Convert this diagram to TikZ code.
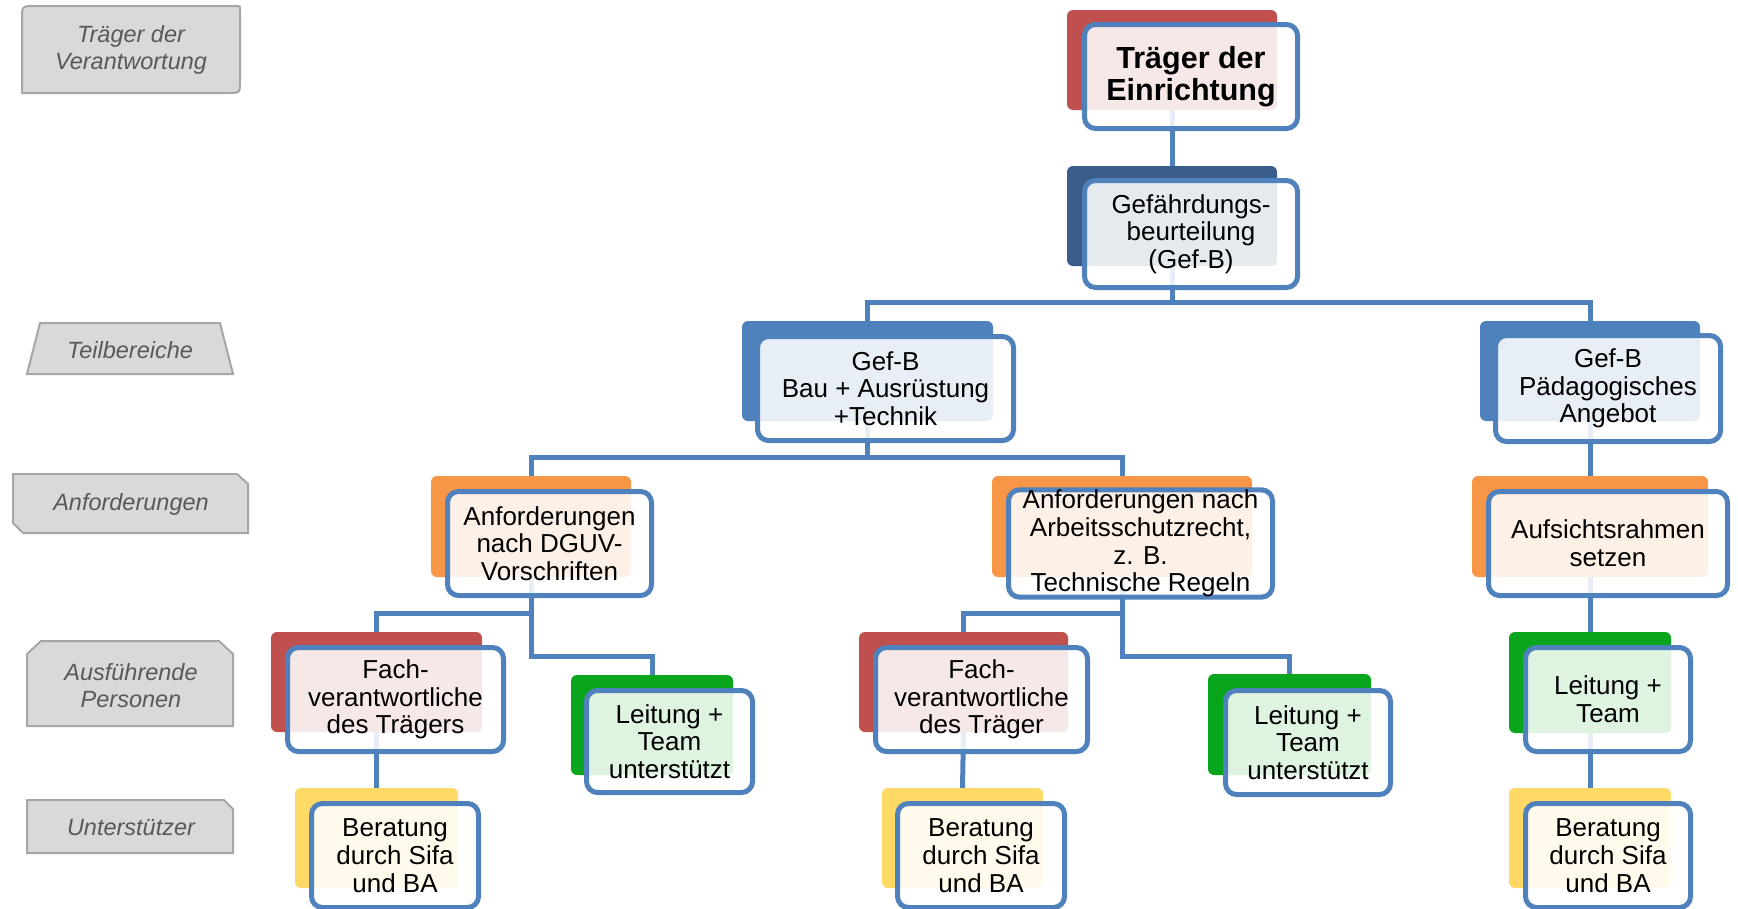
\documentclass[tikz,border=0pt]{standalone}
\usepackage{fontspec}
\setmainfont{Liberation Sans}
\usetikzlibrary{backgrounds}
\definecolor{bblue}{HTML}{4F81BD}
\definecolor{cred}{HTML}{C0504D}
\definecolor{cdblue}{HTML}{385D8A}
\definecolor{cmblue}{HTML}{4F81BD}
\definecolor{corange}{HTML}{F79646}
\definecolor{cgreen}{HTML}{09A61D}
\definecolor{cyellow}{HTML}{FFD966}
\definecolor{lgray}{HTML}{D9D9D9}
\definecolor{lborder}{HTML}{A6A6A6}
\definecolor{ltext}{HTML}{595959}
\tikzset{
  backbox/.style={rounded corners=6pt, inner sep=0pt, outer sep=0pt, draw=none},
  frontbox/.style={draw=bblue, line width=5pt, fill=white, fill opacity=0.87, text opacity=1,
    rounded corners=11pt, inner sep=0pt, align=center, text=black,
    font=\fontsize{26}{27.7}\selectfont},
  conn/.style={draw=bblue, line width=5pt},
  legendbox/.style={fill=lgray, draw=lborder, line width=2pt},
  legtext/.style={text=ltext, align=center, font=\fontsize{23.5}{27}\selectfont\itshape}
}
\begin{document}
\begin{tikzpicture}[x=1pt,y=-1pt]
\useasboundingbox (0,0) rectangle (1738,908);

% legend
\filldraw[legendbox] (22,93) -- (22,19) .. controls (22,6) .. (35,6) -- (237,6) .. controls (240,6) .. (240,9) -- (240,81) .. controls (240,93) .. (228,93) -- cycle;
\node[legtext] (l1) at (131,50) {Träger der\\Verantwortung};
\filldraw[legendbox] (40,323) -- (220,323) -- (233,374) -- (27,374) -- cycle;
\node[legtext] (l2) at (130,350) {Teilbereiche};
\filldraw[legendbox] (13,474) -- (237,474) -- (248,484) -- (248,533) -- (23,533) -- (13,523) -- cycle;
\node[legtext] (l3) at (131,504) {Anforderungen};
\filldraw[legendbox] (27,726) -- (27,654) -- (41,641) -- (219,641) -- (233,654) -- (233,726) -- cycle;
\node[legtext] (l4) at (131,686) {Ausführende\\Personen};
\filldraw[legendbox] (27,800) -- (224,800) -- (233,809) -- (233,853) -- (27,853) -- cycle;
\node[legtext] (l5) at (131,828) {Unterstützer};

% units
\node[backbox, fill=cred,    minimum width=210pt, minimum height=100pt] (b1)  at (1172,60) {};
\node[frontbox, minimum width=213pt, minimum height=104pt, font=\fontsize{30.5}{32.5}\selectfont\bfseries] (f1) at (1191,76.5) {Träger der\\Einrichtung};

\node[backbox, fill=cdblue,  minimum width=210pt, minimum height=100pt] (b2)  at (1172,216) {};
\node[frontbox, minimum width=213pt, minimum height=107pt] (f2) at (1191,234) {Gefährdungs-\\beurteilung\\(Gef-B)};

\node[backbox, fill=cmblue,  minimum width=251pt, minimum height=100pt] (b3)  at (867.5,371) {};
\node[frontbox, minimum width=256pt, minimum height=104pt] (f3) at (885.5,388.5) {Gef-B\\Bau + Ausrüstung\\+Technik};

\node[backbox, fill=cmblue,  minimum width=220pt, minimum height=100pt] (b4)  at (1590,371) {};
\node[frontbox, minimum width=225pt, minimum height=106pt] (f4) at (1608,388.5) {Gef-B\\Pädagogisches\\Angebot};

\node[backbox, fill=corange, minimum width=200pt, minimum height=101pt] (b5)  at (531,526.5) {};
\node[frontbox, minimum width=204pt, minimum height=104pt] (f5) at (549.5,543.5) {Anforderungen\\nach DGUV-\\Vorschriften};

\node[backbox, fill=corange, minimum width=260pt, minimum height=101pt] (b6)  at (1122,526.5) {};
\node[frontbox, minimum width=264pt, minimum height=104pt] (f6) at (1140.5,543.5) {Anforderungen nach\\Arbeitsschutzrecht,\\z. B.\\Technische Regeln};

\node[backbox, fill=corange, minimum width=236pt, minimum height=101pt] (b7)  at (1590,526.5) {};
\node[frontbox, minimum width=239pt, minimum height=104pt] (f7) at (1608,543.5) {Aufsichtsrahmen\\setzen};

\node[backbox, fill=cred,    minimum width=211pt, minimum height=100pt] (b8)  at (376.5,682) {};
\node[frontbox, minimum width=216pt, minimum height=104pt] (f8) at (395.5,699.5) {Fach-\\verantwortliche\\des Trägers};

\node[backbox, fill=cgreen,  minimum width=162pt, minimum height=100pt] (b9)  at (652,725) {};
\node[frontbox, minimum width=166pt, minimum height=102pt] (f9) at (669.5,741.5) {Leitung +\\Team\\unterstützt};

\node[backbox, fill=cred,    minimum width=209pt, minimum height=100pt] (b10) at (963.5,682) {};
\node[frontbox, minimum width=212pt, minimum height=104pt] (f10) at (981.5,699.5) {Fach-\\verantwortliche\\des Träger};

\node[backbox, fill=cgreen,  minimum width=163pt, minimum height=101pt] (b11) at (1289.5,724.5) {};
\node[frontbox, minimum width=165pt, minimum height=104pt] (f11) at (1308,742.5) {Leitung +\\Team\\unterstützt};

\node[backbox, fill=cgreen,  minimum width=162pt, minimum height=101pt] (b12) at (1590,682.5) {};
\node[frontbox, minimum width=165pt, minimum height=104pt] (f12) at (1608,699.5) {Leitung +\\Team};

\node[backbox, fill=cyellow, minimum width=163pt, minimum height=100pt] (b13) at (376.5,838) {};
\node[frontbox, minimum width=167pt, minimum height=104pt] (f13) at (395,855.5) {Beratung\\durch Sifa\\und BA};

\node[backbox, fill=cyellow, minimum width=161pt, minimum height=100pt] (b14) at (962.5,838) {};
\node[frontbox, minimum width=167pt, minimum height=104pt] (f14) at (981,855.5) {Beratung\\durch Sifa\\und BA};

\node[backbox, fill=cyellow, minimum width=162pt, minimum height=100pt] (b15) at (1590,838) {};
\node[frontbox, minimum width=165pt, minimum height=104pt] (f15) at (1608,855.5) {Beratung\\durch Sifa\\und BA};

% connectors
\begin{pgfonlayer}{background}
\fill[white] (0,0) rectangle (1738,908);
\draw[conn] (b1.south) -- (b2.north);
\draw[conn] (b2.south) -- (b2.south |- 0,302) -| (b3.north);
\draw[conn] (b2.south |- 0,302) -| (b4.north);
\draw[conn] (b3.south) -- (b3.south |- 0,457) -| (b5.north);
\draw[conn] (b3.south |- 0,457) -| (b6.north);
\draw[conn] (b4.south) -- (b7.north);
\draw[conn] (b5.south) -- (b5.south |- 0,613) -| (b8.north);
\draw[conn] (b5.south) -- (b5.south |- 0,656) -| (b9.north);
\draw[conn] (b6.south) -- (b6.south |- 0,613) -| (b10.north);
\draw[conn] (b6.south) -- (b6.south |- 0,656) -| (b11.north);
\draw[conn] (b7.south) -- (b12.north);
\draw[conn] (b8.south) -- (b13.north);
\draw[conn] (b10.south) -- (b14.north);
\draw[conn] (b12.south) -- (b15.north);
\end{pgfonlayer}
\end{tikzpicture}
\end{document}
